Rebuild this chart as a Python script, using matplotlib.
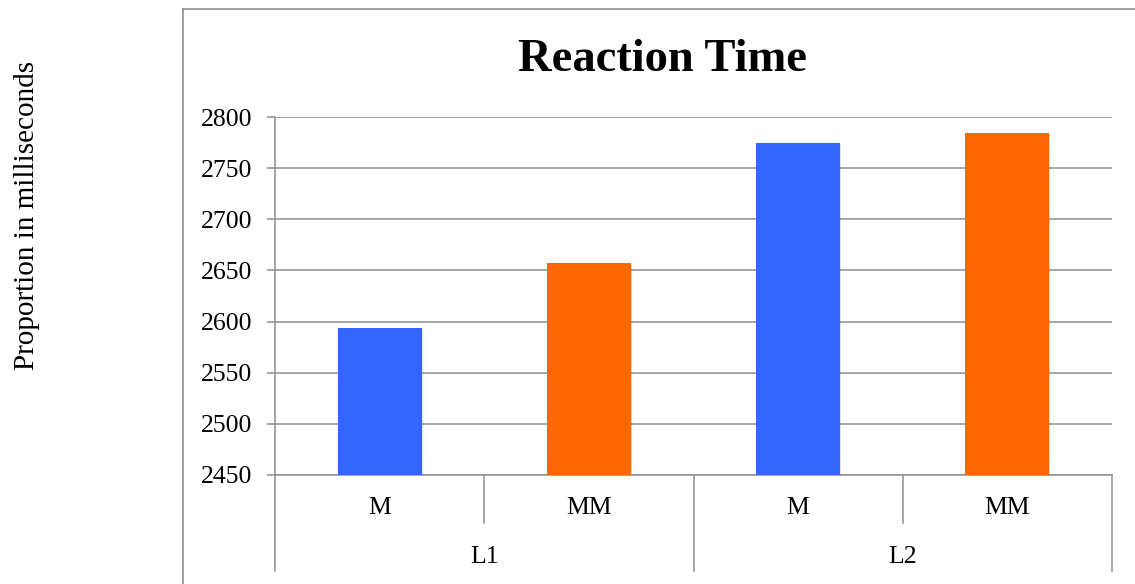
import matplotlib.pyplot as plt
import matplotlib.patheffects as pe
from matplotlib.transforms import blended_transform_factory

# данные
groups = ['L1', 'L2']
subgroups = ['M', 'MM']
values = [2594, 2657, 2775, 2785]
colors = ['#3366FF', '#FF6600', '#3366FF', '#FF6600']
yticks = [2450, 2500, 2550, 2600, 2650, 2700, 2750, 2800]

plt.rcParams['font.family'] = ['Liberation Serif', 'DejaVu Serif']
grey = '#8e8e8e'

fig = plt.figure(figsize=(11.35, 5.84), dpi=100)
W, H = 1135, 584

# рамка вокруг диаграммы
x0, y0 = 182.7 / W, 1 - 9.3 / H
fig.add_artist(plt.Line2D([x0, 1.0], [y0, y0], color=grey, lw=1.2, transform=fig.transFigure))
fig.add_artist(plt.Line2D([x0, x0], [y0, 0.0], color=grey, lw=1.2, transform=fig.transFigure))

# область графика
left, right, top, bottom = 275.3, 1111.7, 117.3, 474.7
ax = fig.add_axes([left / W, 1 - bottom / H, (right - left) / W, (bottom - top) / H])

n = len(values)
x = list(range(n))
bars = ax.bar(x, [v - yticks[0] for v in values], bottom=yticks[0], width=0.4,
              color=colors, zorder=3)
for b in bars:
    b.set_path_effects([pe.SimplePatchShadow(offset=(1, -1), alpha=0.12), pe.Normal()])

ax.set_xlim(-0.5, n - 0.5)
ax.set_ylim(yticks[0], yticks[-1])
ax.set_yticks(yticks)
ax.tick_params(axis='y', length=5.5, width=1.1, color=grey, labelsize=18.5, pad=11)
ax.set_xticks([])
ax.grid(axis='y', color=grey, lw=1.1, zorder=0)
ax.set_axisbelow(True)
for s in ['top', 'right']:
    ax.spines[s].set_visible(False)
for s in ['left', 'bottom']:
    ax.spines[s].set_color(grey)
    ax.spines[s].set_linewidth(1.1)

# двухуровневая ось категорий
trans = blended_transform_factory(ax.transData, ax.transAxes)
ph = 1 / (bottom - top)
inner = -(522.7 - bottom) * ph
outer = -(571 - bottom) * ph
for g in range(len(groups)):
    xs = g * 2 + 0.5
    ax.plot([xs, xs], [0, inner], color=grey, lw=1.1, transform=trans, clip_on=False)
for xs in [-0.5, 1.5, 3.5]:
    ax.plot([xs, xs], [0, outer], color=grey, lw=1.1, transform=trans, clip_on=False)
for i in range(n):
    ax.text(i, -(508 - bottom) * ph, subgroups[i % 2], transform=trans,
            ha='center', va='center', fontsize=18.5)
for g, name in enumerate(groups):
    ax.text(g * 2 + 0.5, -(556.7 - bottom) * ph, name, transform=trans,
            ha='center', va='center', fontsize=18.5)

fig.text(662 / W, 1 - 60 / H, 'Reaction Time', ha='center', va='center',
         fontsize=33.5, fontweight='bold')
fig.text(27 / W, 1 - 215 / H, 'Proportion in milliseconds', rotation=90,
         ha='center', va='center', fontsize=21)

fig.savefig('out.png', dpi=100)
